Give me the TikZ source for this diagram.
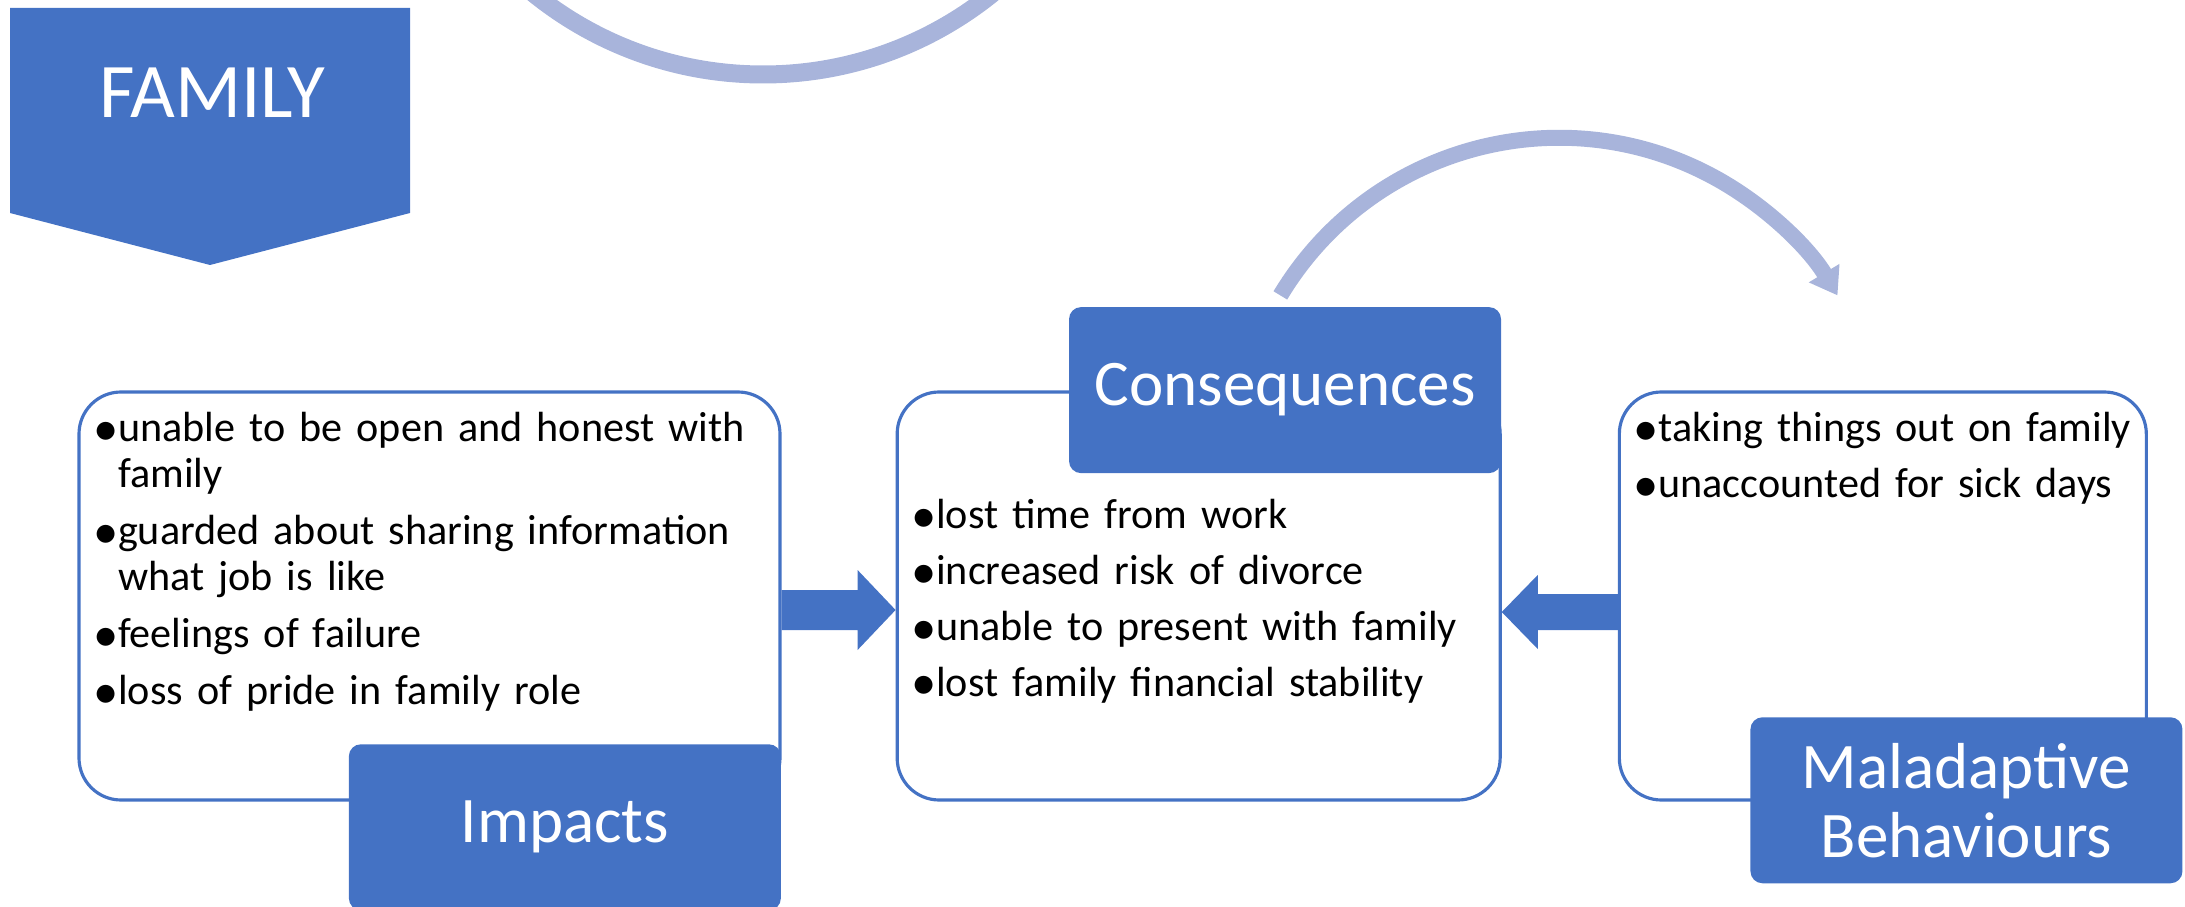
\documentclass[tikz,border=0pt]{standalone}
\usepackage{fontspec}
\setmainfont{Carlito}
\usetikzlibrary{positioning,calc,arrows.meta}

\definecolor{famblue}{RGB}{68,114,196}
\definecolor{arcblue}{RGB}{168,180,219}

% one bullet paragraph, later lines hang under the text
\newcommand{\bulletline}[1]{\hangindent=0.21cm\hangafter=1\noindent
    \makebox[0.21cm][l]{\hspace{-0.04cm}\raisebox{-1.1pt}{\scalebox{1.2}{•}}}#1\par}

\tikzset{
    listbox/.style={draw=famblue, line width=0.9pt, rounded corners=0.42cm, minimum height=4.08cm, inner sep=0pt},
    labelbox/.style={fill=famblue, rounded corners=0.12cm, text=white, minimum width=4.32cm, minimum height=1.66cm,
            inner sep=0pt, align=center, font=\fontsize{18.5}{19.6}\selectfont},
    listtext/.style={anchor=base west, inner sep=0pt, align=left, font=\fontsize{12}{13.1}\selectfont},
    blockarrow/.style={fill=famblue},
    bendarrow/.style={draw=arcblue, line width=0.16cm},
}

\begin{document}
\begin{tikzpicture}
    % Fix the frame to the reference
    \useasboundingbox (0,0) rectangle (21.85,-9.07);
    \clip (0,0) rectangle (21.85,-9.07);

    % Lower rim of the big circle, cut by the top edge
    \draw[bendarrow, line width=0.18cm] (7.63,2.91) circle (3.655);

    % FAMILY banner
    \fill[famblue] (0.10,-0.08) -- (4.10,-0.08) -- (4.10,-2.13) -- (2.10,-2.65) -- (0.10,-2.13) -- cycle;
    \node[font=\fontsize{22}{26}\selectfont, text=white] (family) at (2.12,-0.93) {FAMILY};

    % The three list boxes
    \node[listbox, minimum width=7.01cm] (impactsbox) at (4.295,-5.96) {};
    \node[listbox, minimum width=6.03cm, right=1.14cm of impactsbox] (conseqbox) {};
    \node[listbox, minimum width=5.27cm, right=1.16cm of conseqbox] (malbox) {};

    % Lists inside the boxes
    \node[listtext, text width=6.8cm] (impactstext) at ($(impactsbox.north west)+(0.19,-0.51)$) {\setlength{\parskip}{3.1pt}%
        \bulletline{unable to be open and honest with\newline family}
        \bulletline{guarded about sharing information\newline what job is like}
        \bulletline{feelings of failure}
        \bulletline{loss of pride in family role}};
    \node[listtext, text width=5.7cm] (conseqtext) at ($(conseqbox.north west)+(0.19,-1.38)$) {\setlength{\parskip}{2.8pt}%
        \bulletline{lost time from work}
        \bulletline{increased risk of divorce}
        \bulletline{unable to present with family}
        \bulletline{lost family financial stability}};
    \node[listtext, text width=5.5cm] (maltext) at ($(malbox.north west)+(0.19,-0.51)$) {\setlength{\parskip}{2.8pt}%
        \bulletline{taking things out on family}
        \bulletline{unaccounted for sick days}};

    % Title boxes on top of the lists
    \node[labelbox, anchor=north east] (impactslabel) at ($(impactsbox.south east)+(0,0.58)$) {Impacts};
    \node[labelbox, anchor=north east] (conseqlabel) at ($(conseqbox.north east)+(0,0.84)$) {Consequences};
    \node[labelbox, anchor=north west] (mallabel) at ($(malbox.south west)+(1.32,0.85)$) {Maladaptive\\Behaviours};

    % Block arrow: impacts into consequences
    \coordinate (a1) at ($(impactsbox.east)+(0,-0.14)$);
    \coordinate (b1) at ($(conseqbox.west)+(0,-0.14)$);
    \fill[blockarrow] ($(a1)+(0,0.2)$) -- ($(b1)+(-0.38,0.2)$) -- ($(b1)+(-0.38,0.4)$) -- (b1)
        -- ($(b1)+(-0.38,-0.4)$) -- ($(b1)+(-0.38,-0.2)$) -- ($(a1)+(0,-0.2)$) -- cycle;

    % Block arrow: maladaptive behaviours into consequences
    \coordinate (a2) at ($(malbox.west)+(0,-0.16)$);
    \coordinate (b2) at ($(conseqbox.east)+(0,-0.16)$);
    \fill[blockarrow] ($(a2)+(0,0.18)$) -- ($(b2)+(0.36,0.18)$) -- ($(b2)+(0.36,0.37)$) -- (b2)
        -- ($(b2)+(0.36,-0.37)$) -- ($(b2)+(0.36,-0.18)$) -- ($(a2)+(0,-0.18)$) -- cycle;

    % Curved arrow from consequences over to maladaptive behaviours
    \draw[bendarrow, -{Triangle[width=0.34cm, length=0.26cm]}] ($(conseqlabel.north west)+(2.12,0.11)$)
        arc[start angle=149, end angle=31, radius=3.25];
\end{tikzpicture}
\end{document}
